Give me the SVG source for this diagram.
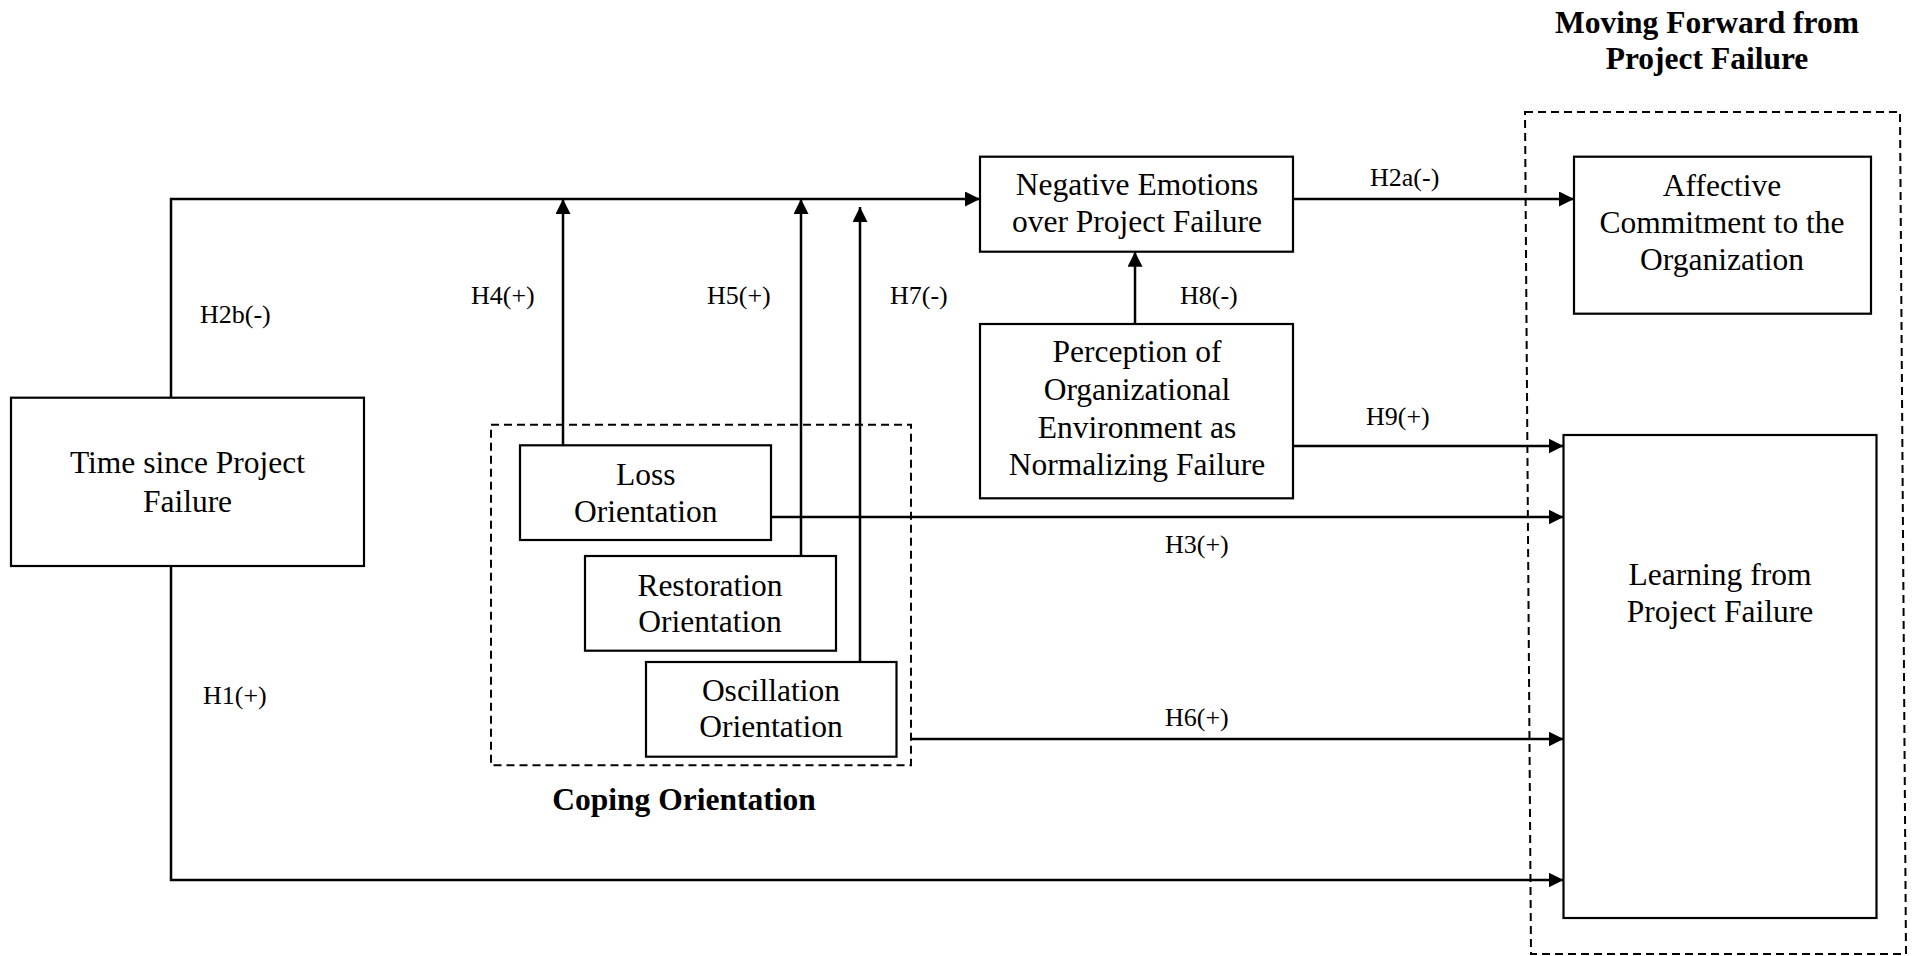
<svg xmlns="http://www.w3.org/2000/svg" width="1912" height="956" viewBox="0 0 1912 956">
<style>
.box{fill:#fff;stroke:#000;stroke-width:2.2}
.dash{fill:none;stroke:#000;stroke-width:2;stroke-dasharray:8,5}
.con{fill:none;stroke:#000;stroke-width:2.5}
.t{font-family:"Liberation Serif","Times New Roman",serif;font-size:31.5px;fill:#000;text-anchor:middle}
.lb{font-family:"Liberation Serif","Times New Roman",serif;font-size:26px;fill:#000}
.hd{font-family:"Liberation Serif","Times New Roman",serif;font-size:31.5px;font-weight:bold;fill:#000;text-anchor:middle}
</style>
<defs>
<marker id="arr" markerUnits="userSpaceOnUse" markerWidth="16" markerHeight="16" refX="15" refY="7.5" orient="auto">
<path d="M0,0 L15,7.5 L0,15 z" fill="#000"/>
</marker>
</defs>
<rect width="1912" height="956" fill="#fff"/>
<g id="groups">
<polygon class="dash" points="1525,112 1900,112 1906,954 1531,954"/>
<rect class="dash" x="491" y="424.7" width="420" height="340.5"/>
<text class="hd" x="1707" y="33">Moving Forward from</text>
<text class="hd" x="1707" y="69">Project Failure</text>
<text class="hd" x="684" y="810">Coping Orientation</text>
</g>
<g id="connectors">
<path class="con" d="M171,397.7 V199 H980" marker-end="url(#arr)"/>
<path class="con" d="M563,445.3 V199" marker-end="url(#arr)"/>
<path class="con" d="M801,556 V199" marker-end="url(#arr)"/>
<path class="con" d="M860,662 V207" marker-end="url(#arr)"/>
<path class="con" d="M1293,199 H1574" marker-end="url(#arr)"/>
<path class="con" d="M1135,324 V251.7" marker-end="url(#arr)"/>
<path class="con" d="M1293,446 H1563.5" marker-end="url(#arr)"/>
<path class="con" d="M771,517 H1563.5" marker-end="url(#arr)"/>
<path class="con" d="M911,739 H1563.5" marker-end="url(#arr)"/>
<path class="con" d="M171,566 V880 H1563.5" marker-end="url(#arr)"/>
<text class="lb" x="200" y="323">H2b(-)</text>
<text class="lb" x="471" y="304">H4(+)</text>
<text class="lb" x="707" y="304">H5(+)</text>
<text class="lb" x="890" y="304">H7(-)</text>
<text class="lb" x="1180" y="304">H8(-)</text>
<text class="lb" x="1370" y="186">H2a(-)</text>
<text class="lb" x="1366" y="425">H9(+)</text>
<text class="lb" x="1165" y="553">H3(+)</text>
<text class="lb" x="1165" y="726">H6(+)</text>
<text class="lb" x="203" y="704">H1(+)</text>
</g>
<g id="time">
<rect class="box" x="11" y="397.7" width="353" height="168.3"/>
<text class="t" x="187.5" y="473">Time since Project</text>
<text class="t" x="187.5" y="512">Failure</text>
</g>
<g id="loss">
<rect class="box" x="520" y="445.3" width="251" height="94.7"/>
<text class="t" x="645.7" y="485">Loss</text>
<text class="t" x="645.7" y="521.7">Orientation</text>
</g>
<g id="restoration">
<rect class="box" x="585" y="556" width="251" height="94.7"/>
<text class="t" x="710" y="595.7">Restoration</text>
<text class="t" x="710" y="632.3">Orientation</text>
</g>
<g id="oscillation">
<rect class="box" x="646" y="662" width="250.5" height="94.7"/>
<text class="t" x="771" y="701">Oscillation</text>
<text class="t" x="771" y="737.3">Orientation</text>
</g>
<g id="negative">
<rect class="box" x="980" y="156.7" width="313" height="95"/>
<text class="t" x="1137" y="195">Negative Emotions</text>
<text class="t" x="1137" y="232">over Project Failure</text>
</g>
<g id="perception">
<rect class="box" x="980" y="324" width="313" height="174.3"/>
<text class="t" x="1137" y="361.7">Perception of</text>
<text class="t" x="1137" y="400">Organizational</text>
<text class="t" x="1137" y="438.3">Environment as</text>
<text class="t" x="1137" y="475">Normalizing Failure</text>
</g>
<g id="affective">
<rect class="box" x="1574" y="156.7" width="297" height="157"/>
<text class="t" x="1722" y="196">Affective</text>
<text class="t" x="1722" y="232.7">Commitment to the</text>
<text class="t" x="1722" y="270">Organization</text>
</g>
<g id="learning">
<rect class="box" x="1563.5" y="435" width="313" height="483"/>
<text class="t" x="1720" y="585">Learning from</text>
<text class="t" x="1720" y="621.7">Project Failure</text>
</g>
</svg>
